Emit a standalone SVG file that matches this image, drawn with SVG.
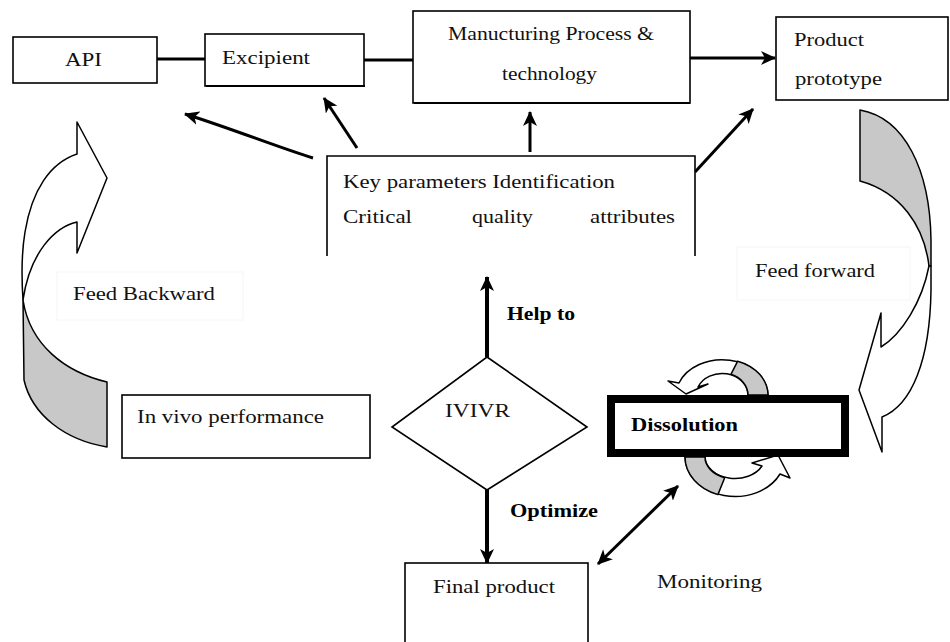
<svg xmlns="http://www.w3.org/2000/svg" width="950" height="642" viewBox="0 0 950 642">
<defs>
<style>
.box{fill:#fff;stroke:#000;stroke-width:1.6}
.t{font-family:"Liberation Serif","Times New Roman",serif;font-size:19px;fill:#111}
.b{font-family:"Liberation Serif","Times New Roman",serif;font-size:18px;font-weight:bold;fill:#000}
.ln{fill:none;stroke:#000;stroke-width:3}
.ln4{fill:none;stroke:#000;stroke-width:4}
.band{fill:#fff;stroke:#000;stroke-width:1.5;stroke-linejoin:round}
.gray{fill:#c8c8c8;stroke:#000;stroke-width:1.5;stroke-linejoin:round}
.faint{fill:#fff;stroke:#f6f6f6;stroke-width:1}
</style>
<marker id="ah" markerUnits="userSpaceOnUse" markerWidth="16" markerHeight="14" refX="14" refY="7" orient="auto">
<path d="M0,0 L15,7 L0,14 L4,7 Z" fill="#000"/>
</marker>
<marker id="ahs" markerUnits="userSpaceOnUse" markerWidth="16" markerHeight="14" refX="1" refY="7" orient="auto">
<path d="M15,0 L0,7 L15,14 L11,7 Z" fill="#000"/>
</marker>
</defs>
<rect width="950" height="642" fill="#fff"/>

<g id="connectors">
<line class="ln" x1="157" y1="59" x2="205" y2="59"/>
<line class="ln" x1="364" y1="60" x2="413" y2="60"/>
<line class="ln" x1="690" y1="58" x2="775" y2="58" marker-end="url(#ah)"/>
<path class="ln" d="M313,158 C280,148 230,128 185,114" marker-end="url(#ah)"/>
<line class="ln" x1="357" y1="148" x2="324" y2="98" marker-end="url(#ah)"/>
<line class="ln" x1="530" y1="152" x2="530" y2="112" marker-end="url(#ah)"/>
<line class="ln" x1="695" y1="172" x2="753" y2="109" marker-end="url(#ah)"/>
<line class="ln4" x1="487" y1="357" x2="487" y2="277" marker-end="url(#ah)"/>
<line class="ln4" x1="487" y1="490" x2="487" y2="563" marker-end="url(#ah)"/>
<line class="ln" x1="598" y1="564" x2="678" y2="486" marker-start="url(#ahs)" marker-end="url(#ah)"/>
</g>

<g id="feed-backward">
<rect class="faint" x="57" y="272" width="186" height="48"/>
<path class="band" d="M77,154 L77,122 L107,178 L77,253 L77,222 C55,227 30,252 23,300 C21,270 22,250 25,232 C32,190 50,163 77,154 Z"/>
<path class="gray" d="M23,300 C30,345 65,372 107,382 L107,447 C65,440 32,415 24,380 Z"/>
<text class="t" x="73" y="300" textLength="142" lengthAdjust="spacingAndGlyphs">Feed Backward</text>
</g>

<g id="feed-forward">
<rect class="faint" x="737" y="247" width="173" height="53"/>
<path class="gray" d="M860,110 C905,118 930,170 931,240 L931,266 L929,266 C924,225 900,192 860,181 Z"/>
<path class="band" d="M931,266 L931,290 C930,360 912,405 882,417 L882,452 L859,390 L881,313 L881,347 C902,334 922,302 929,266 Z"/>
<text class="t" x="755" y="277" textLength="120" lengthAdjust="spacingAndGlyphs">Feed forward</text>
</g>

<g id="api">
<rect class="box" x="13" y="37" width="144" height="46"/>
<text class="t" x="65" y="66" textLength="37" lengthAdjust="spacingAndGlyphs">API</text>
</g>

<g id="excipient">
<rect class="box" x="205" y="34" width="159" height="52"/>
<line x1="206" y1="86" x2="365" y2="86" stroke="#000" stroke-width="2"/>
<text class="t" x="222" y="64" textLength="88" lengthAdjust="spacingAndGlyphs">Excipient</text>
</g>

<g id="manufacturing">
<rect class="box" x="413" y="11" width="277" height="92"/>
<line x1="414" y1="103" x2="690" y2="103" stroke="#000" stroke-width="2"/>
<text class="t" x="448" y="40" textLength="206" lengthAdjust="spacingAndGlyphs">Manucturing Process &amp;</text>
<text class="t" x="502" y="80" textLength="95" lengthAdjust="spacingAndGlyphs">technology</text>
</g>

<g id="product-prototype">
<rect class="box" x="776" y="17" width="172" height="83"/>
<text class="t" x="794" y="46" textLength="70" lengthAdjust="spacingAndGlyphs">Product</text>
<text class="t" x="795" y="85" textLength="87" lengthAdjust="spacingAndGlyphs">prototype</text>
</g>

<g id="key-parameters">
<rect x="327" y="156" width="368" height="100" fill="#fff"/>
<path d="M327,256 L327,156 L695,156 L695,256" fill="none" stroke="#000" stroke-width="1.6"/>
<text class="t" x="343" y="188" textLength="272" lengthAdjust="spacingAndGlyphs">Key parameters Identification</text>
<text class="t" x="343" y="223" textLength="69" lengthAdjust="spacingAndGlyphs">Critical</text>
<text class="t" x="472" y="223" textLength="61" lengthAdjust="spacingAndGlyphs">quality</text>
<text class="t" x="590" y="223" textLength="85" lengthAdjust="spacingAndGlyphs">attributes</text>
</g>

<g id="in-vivo">
<rect class="box" x="122" y="395" width="248" height="63"/>
<text class="t" x="137" y="423" textLength="187" lengthAdjust="spacingAndGlyphs">In vivo performance</text>
</g>

<g id="ivivr">
<polygon class="box" points="487,357 587,427 487,490 392,427"/>
<text class="t" x="445" y="417" textLength="65" lengthAdjust="spacingAndGlyphs">IVIVR</text>
<text class="b" x="507" y="320" textLength="68" lengthAdjust="spacingAndGlyphs">Help to</text>
<text class="b" x="510" y="517" textLength="88" lengthAdjust="spacingAndGlyphs">Optimize</text>
</g>

<g id="dissolution">
<path class="band" d="M768,395 A46,36 0 0 0 679,383 L668,381 L686,394 L708,384 L698,387 A26,22 0 0 1 748,395 Z"/>
<path class="gray" d="M768,395 A46,36 0 0 0 737.7,361.2 L730.9,374.3 A26,22 0 0 1 748,395 Z"/>
<path class="band" d="M685,457 A50,40 0 0 0 780,474 L790,478 L778,455 L752,463 L762,466 A30,22 0 0 1 705,457 Z"/>
<path class="gray" d="M685,457 A50,40 0 0 0 717.9,494.6 L724.7,477.7 A30,22 0 0 1 705,457 Z"/>
<rect x="611" y="399" width="234" height="54" fill="#fff" stroke="#000" stroke-width="8"/>
<text class="b" x="631" y="431" textLength="107" lengthAdjust="spacingAndGlyphs">Dissolution</text>
</g>

<g id="final-product">
<rect class="box" x="405" y="563" width="183" height="90"/>
<text class="t" x="433" y="593" textLength="122" lengthAdjust="spacingAndGlyphs">Final product</text>
</g>

<g id="monitoring">
<text class="t" x="657" y="588" textLength="105" lengthAdjust="spacingAndGlyphs">Monitoring</text>
</g>
</svg>
